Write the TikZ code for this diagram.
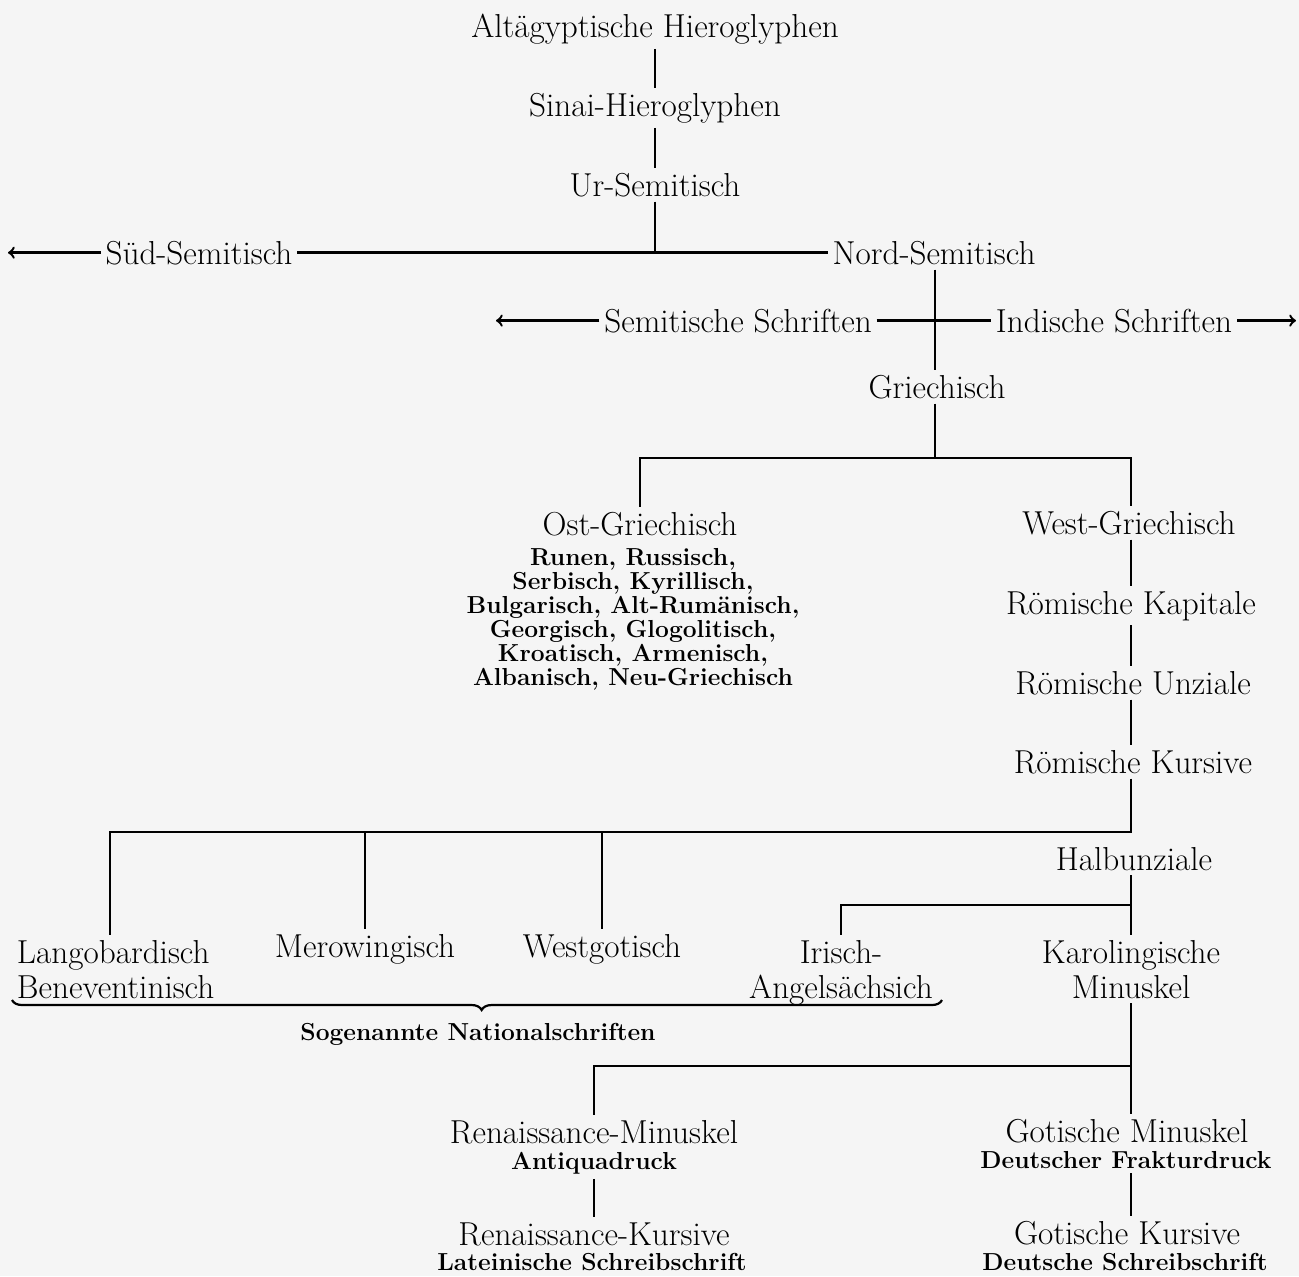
\documentclass[tikz,border=0pt]{standalone}
\usetikzlibrary{decorations.pathreplacing}

\tikzset{
  schrift/.style={font=\fontsize{16.6}{16}\selectfont, inner sep=0pt, outer sep=2.5pt},
  zusatz/.style={font=\fontsize{12.3}{12}\selectfont\bfseries, inner sep=0pt, outer sep=2.5pt},
  linie/.style={line width=1.2pt}
}

\begin{document}
\begin{tikzpicture}[x=0.5pt,y=-0.5pt]
	\fill[black!4] (0,0) rectangle (1299,1276);
	\useasboundingbox (0,0) rectangle (1299,1276);
	% semitische Wurzel
	\node[schrift,anchor=base] (alt) at (655,37) {Altägyptische Hieroglyphen};
	\node[schrift,anchor=base] (sinai) at (655,116) {Sinai-Hieroglyphen};
	\node[schrift,anchor=base] (ur) at (655,196) {Ur-Semitisch};
	\node[schrift,anchor=base] (sued) at (199,264) {Süd-Semitisch};
	\node[schrift,anchor=base] (nord) at (934,264) {Nord-Semitisch};
	\node[schrift,anchor=base] (semsch) at (738,332) {Semitische Schriften};
	\node[schrift,anchor=base] (ind) at (1114,332) {Indische Schriften};
	\node[schrift,anchor=base] (griech) at (937,398) {Griechisch};
	\coordinate (suedpfeil) at (8,0 |- sued.west);
	\coordinate (sempfeil) at (496,0 |- semsch.west);
	\coordinate (indpfeil) at (1296,0 |- semsch.west);
	\coordinate (gsplit) at (935,458);
	\draw[linie] (alt.south) -- (sinai.north);
	\draw[linie] (sinai.south) -- (ur.north);
	\draw[linie] (ur.south) -- (ur.south |- sued.east);
	\draw[linie] (sued.east) -- (sued.east -| nord.west);
	\draw[linie,->] (sued.west) -- (suedpfeil);
	\draw[linie] (nord.south -| gsplit) -- (griech.north -| gsplit);
	\draw[linie] (semsch.east) -- (semsch.east -| ind.west);
	\draw[linie,->] (semsch.west) -- (sempfeil);
	\draw[linie,->] (semsch.west -| ind.east) -- (indpfeil);
	\draw[linie] (griech.south -| gsplit) -- (gsplit);
	% griechische Zweige
	\coordinate (wachse) at (1131,0);
	\node[schrift,anchor=base] (ost) at (640,535) {Ost-Griechisch};
	\node[zusatz,anchor=north,align=center] (ostliste) at (633,543) {Runen, Russisch,\\Serbisch, Kyrillisch,\\Bulgarisch, Alt-Rumänisch,\\Georgisch, Glogolitisch,\\Kroatisch, Armenisch,\\Albanisch, Neu-Griechisch};
	\node[schrift,anchor=base] (west) at (1129,534) {West-Griechisch};
	\node[schrift,anchor=base] (kap) at (1131,614) {Römische Kapitale};
	\node[schrift,anchor=base] (unz) at (1133,694) {Römische Unziale};
	\node[schrift,anchor=base] (kurs) at (1133,773) {Römische Kursive};
	\node[schrift,anchor=base] (halb) at (1134,870) {Halbunziale};
	\draw[linie] (ost.north) |- (gsplit) -| (west.north -| wachse);
	\draw[linie] (west.south -| wachse) -- (kap.north -| wachse);
	\draw[linie] (kap.south -| wachse) -- (unz.north -| wachse);
	\draw[linie] (unz.south -| wachse) -- (kurs.north -| wachse);
	% Nationalschriften
	\coordinate (nsplit) at (1131,832);
	\coordinate (lsplit) at (110,832);
	\coordinate (isplit) at (1131,905);
	\node[schrift,anchor=north west,align=left] (lang) at (12,935) {Langobardisch\\[1.5pt]Beneventinisch};
	\node[schrift,anchor=base] (mero) at (365,957) {Merowingisch};
	\node[schrift,anchor=base] (westg) at (602,957) {Westgotisch};
	\node[schrift,anchor=north,align=center] (irisch) at (841,935) {Irisch-\\[1.5pt]Angelsächsich};
	\node[schrift,anchor=north,align=center] (karol) at (1131,935) {Karolingische\\[1.5pt]Minuskel};
	\draw[linie] (kurs.south -| nsplit) -- (nsplit) -- (lsplit) -- (lsplit |- lang.north);
	\draw[linie] (mero.north) -- (mero.north |- nsplit);
	\draw[linie] (westg.north) -- (westg.north |- nsplit);
	\draw[linie] (halb.south -| isplit) -- (karol.north);
	\draw[linie] (isplit) -| (irisch.north);
	\coordinate (klammerl) at (12,1000);
	\coordinate (klammerr) at (942,1000);
	\draw[line width=1.1pt,decorate,decoration={brace,mirror,amplitude=5pt,aspect=0.505}] (klammerl) -- (klammerr);
	\node[zusatz,anchor=base] (sogen) at (478,1040) {Sogenannte Nationalschriften};
	% Minuskeln und Kursiven
	\coordinate (rsplit) at (1131,1066);
	\node[schrift,anchor=base] (renmin) at (594,1143) {Renaissance-Minuskel};
	\node[zusatz,anchor=base] (antiqua) at (594,1169) {Antiquadruck};
	\node[schrift,anchor=base] (renkurs) at (594,1245) {Renaissance-Kursive};
	\node[zusatz,anchor=base] (latein) at (592,1270) {Lateinische Schreibschrift};
	\node[schrift,anchor=base] (gotmin) at (1127,1142) {Gotische Minuskel};
	\node[zusatz,anchor=base] (fraktur) at (1126,1168) {Deutscher Frakturdruck};
	\node[schrift,anchor=base] (gotkurs) at (1127,1244) {Gotische Kursive};
	\node[zusatz,anchor=base] (deutsch) at (1125,1270) {Deutsche Schreibschrift};
	\draw[linie] (karol.south -| rsplit) -- (gotmin.north -| rsplit);
	\draw[linie] (rsplit) -| (renmin.north);
	\draw[linie] (antiqua.south) -- (renkurs.north);
	\draw[linie] (fraktur.south -| rsplit) -- (gotkurs.north -| rsplit);
\end{tikzpicture}
\end{document}
